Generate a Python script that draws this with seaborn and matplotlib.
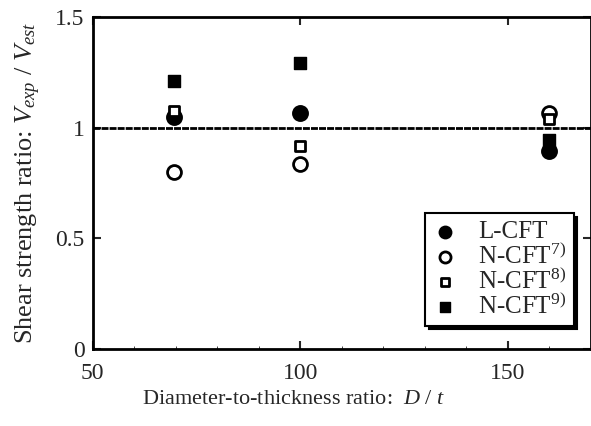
import matplotlib
matplotlib.use("Agg")
import matplotlib.pyplot as plt
import seaborn as sns
import pandas as pd
from matplotlib.ticker import MultipleLocator

sns.set_style("white")
plt.rcParams['font.family'] = ['Liberation Serif', 'DejaVu Serif']
plt.rcParams['mathtext.fontset'] = 'custom'
plt.rcParams['mathtext.rm'] = 'Liberation Serif'
plt.rcParams['mathtext.it'] = 'Liberation Serif:italic'

dt = [69.5, 100, 160]
l_cft = [1.05, 1.065, 0.895]
n_cft7 = [0.80, 0.835, 1.065]
n_cft8 = [1.075, 0.915, 1.04]
n_cft9 = [1.21, 1.29, 0.945]
labels = ["L-CFT", "N-CFT$^{7)}$", "N-CFT$^{8)}$", "N-CFT$^{9)}$"]

fig = plt.figure(figsize=(5.91, 4.26), dpi=100)
ax = fig.add_axes([0.157, 0.181, 0.843, 0.779])

ax.axhline(1.0, color='black', lw=2, ls=(0, (2.5, 0.4)), zorder=1)

styles = [
    dict(marker='o', s=120, facecolor='black', edgecolor='black', linewidth=1.2),
    dict(marker='o', s=100, facecolor='white', edgecolor='black', linewidth=2),
    dict(marker='s', s=50, facecolor='white', edgecolor='black', linewidth=2),
    dict(marker='s', s=85, facecolor='black', edgecolor='black', linewidth=1),
]
series = [l_cft, n_cft7, n_cft8, n_cft9]
for vals, lab, st in zip(series, labels, styles):
    df = pd.DataFrame({"x": dt, "y": vals})
    sns.scatterplot(data=df, x="x", y="y", ax=ax, label=lab, zorder=3, **st)

ax.set_xlim(50, 170)
ax.set_ylim(0, 1.5)
ax.xaxis.set_major_locator(MultipleLocator(50))
ax.xaxis.set_minor_locator(MultipleLocator(10))
ax.set_yticks([0, 0.5, 1, 1.5])
ax.set_yticklabels(["0", "0.5", "1", "1.5"])
ax.tick_params(axis='both', which='major', direction='in', length=6, width=1.5,
               top=True, right=True, bottom=True, left=True, labelsize=17)
ax.tick_params(axis='x', which='major', pad=10)
ax.tick_params(axis='y', which='major', pad=6)
ax.tick_params(axis='x', which='minor', direction='in', length=2.5, width=0.6,
               top=False, bottom=True)
for sp in ax.spines.values():
    sp.set_linewidth(2)
    sp.set_color('black')

ax.set_xlabel("Diameter-to-thickness ratio:  $\\it{D}$ / $\\it{t}$", fontsize=16)
ax.xaxis.set_label_coords(0.404, -0.125)
ax.set_ylabel("Shear strength ratio: $\\it{V}_{exp}$ / $\\it{V}_{est}$", fontsize=19)
ax.yaxis.set_label_coords(-0.1, 0.5)

leg = ax.legend(loc='lower right', bbox_to_anchor=(0.975, 0.055), fontsize=18,
                frameon=True, fancybox=False,
                shadow={'color': 'black', 'alpha': 1, 'ox': 2.5, 'oy': -2.5},
                handletextpad=0.8, labelspacing=0.0, borderpad=0.3, handlelength=1.0,
                borderaxespad=0.2, markerscale=0.8, edgecolor='black')
leg.get_frame().set_linewidth(1.5)

fig.savefig("out.png", dpi=100)
